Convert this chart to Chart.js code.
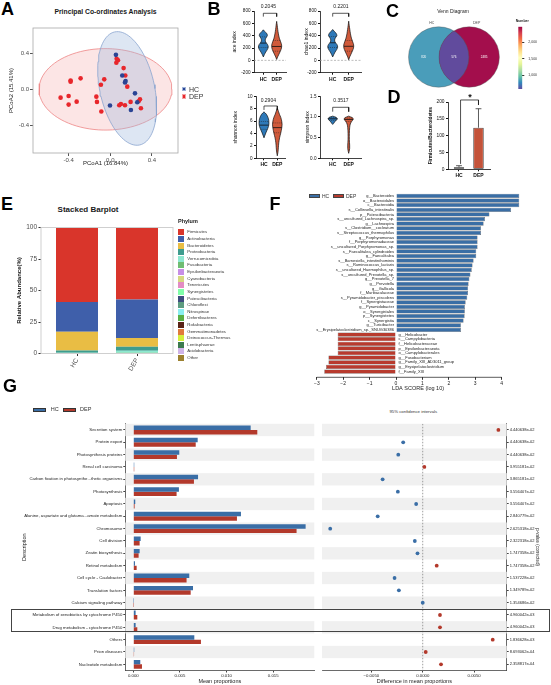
<!DOCTYPE html>
<html><head><meta charset="utf-8">
<script src="https://cdn.jsdelivr.net/npm/chart.js@4.4.1/dist/chart.umd.min.js"></script>
<style>
html,body{margin:0;padding:0;background:#fff;}
body{width:551px;height:685px;position:relative;overflow:hidden;font-family:"Liberation Sans",Arial,Helvetica,sans-serif;}
canvas{position:absolute;}
.t{position:absolute;white-space:nowrap;line-height:1;}
.bx{position:absolute;box-sizing:border-box;}
</style></head><body>
<script>
// ================= DATA =================
const groups = ['HC', 'DEP'];
// A: PCoA
const pcoaHcX = [0.054, 0.115, 0.147, 0.141, 0.237, -0.003, 0.198, 0.259];
const pcoaHcY = [0.387, 0.156, 0.093, 0.078, -0.045, -0.182, -0.231, -0.145];
const pcoaDepX = [-0.477,-0.40,-0.40,-0.323,-0.381,-0.381,-0.285,-0.134,-0.128,-0.086,-0.090,-0.058,0.061,0.074,0.058,0.128,0.144,0.163,0.086,0.102,0.141,0.195,0.272,0.285,0.294];
const pcoaDepY = [-0.093,-0.074,-0.171,-0.138,0.100,0.086,0.123,-0.082,-0.141,-0.249,0.052,0.112,0.342,0.327,0.298,0.238,0.156,0.030,-0.179,-0.164,-0.179,-0.141,-0.134,-0.112,-0.212];
const ellipseHC = {cx:0.162, cy:0.01, ux:-0.12, uy:0.634, vx:0.256, vy:0.065};
const ellipseDEP = {cx:-0.046, cy:0.0, ux:0.638, uy:0, vx:0, vy:0.457};

// B: alpha diversity violins (levels = value, widths = half width in x units)
const aceHcLevels = [495,465,430,400,365,330,295,255,215,175,135,95,55];
const aceHcWidths = [0,0.12,0.27,0.3,0.2,0.14,0.18,0.32,0.37,0.3,0.18,0.08,0];
const aceDepLevels = [632,570,500,430,360,300,250,200,150,100,55,15];
const aceDepWidths = [0,0.04,0.08,0.13,0.2,0.3,0.37,0.36,0.28,0.17,0.07,0];
const aceStats = {median:[280,225], q1:[205,150], q3:[380,320]};
const chao1HcLevels = [500,470,435,400,365,330,295,255,215,175,135,95,55];
const chao1HcWidths = [0,0.1,0.22,0.26,0.17,0.12,0.15,0.27,0.31,0.25,0.15,0.07,0];
const chao1DepLevels = [635,570,500,430,360,300,250,200,150,100,55,10];
const chao1DepWidths = [0,0.03,0.07,0.11,0.17,0.25,0.31,0.3,0.23,0.14,0.06,0];
const chao1Stats = {median:[285,228], q1:[205,150], q3:[385,325]};
const shannonHcLevels = [7.5,7.1,6.6,6.1,5.6,5.1,4.6,4.1,3.6,3.3];
const shannonHcWidths = [0,0.18,0.3,0.36,0.37,0.33,0.24,0.14,0.05,0];
const shannonDepLevels = [8.1,7.6,7.1,6.6,6.0,5.5,5.0,4.5,4.0,3.3,2.5,1.7,1.0,0.4];
const shannonDepWidths = [0,0.08,0.16,0.26,0.33,0.36,0.34,0.3,0.25,0.17,0.11,0.08,0.05,0];
const shannonStats = {median:[5.35,4.95], q1:[4.7,4.1], q3:[5.9,5.7]};
const simpsonHcLevels = [1.02,0.99,0.955,0.92,0.88,0.84,0.82];
const simpsonHcWidths = [0,0.22,0.29,0.22,0.12,0.05,0];
const simpsonDepLevels = [1.02,0.985,0.95,0.9,0.83,0.74,0.6,0.45,0.32,0.24,0.17,0.12];
const simpsonDepWidths = [0,0.22,0.29,0.2,0.1,0.06,0.04,0.04,0.06,0.06,0.03,0];
const simpsonStats = {median:[0.955,0.94], q1:[0.92,0.89], q3:[0.98,0.975]};
const pValuesB = ['0.2045','0.2201','0.2904','0.3517'];

// C: Venn
const vennRegionCounts = [820, 576, 2485]; // HC only, shared, DEP only
const colorbarTicks = [1000, 1500, 2000];

// D: Firmicutes/Bacteroidetes
const fbMean = [6, 123.6];
const fbUpper = [10.7, 180];

// E: phylum stacked bar
const phylumNames = ['Firmicutes','Actinobacteria','Bacteroidetes','Proteobacteria','Verrucomicrobia','Fusobacteria','Epsilonbacteraeota','Cyanobacteria','Tenericutes','Synergistetes','Patescibacteria','Chloroflexi','Nitrospinae','Deferribacteres','Rokubacteria','Gemmatimonadetes','Deinococcus-Thermus','Lentisphaerae','Acidobacteria','Other'];
const phylumHc  = [59.2,23.5,15.0,1.7,0.15,0.1,0.05,0.05,0.05,0.03,0.02,0.02,0.01,0.01,0.01,0.01,0.01,0.01,0.01,0.09];
const phylumDep = [57.1,30.5,7.0,3.3,1.6,0.15,0.1,0.05,0.05,0.03,0.01,0.01,0.01,0.01,0.01,0.01,0.01,0.01,0.01,0.03];
const phylumColors = ['#d9352b','#3f5faa','#e9bd44','#3f9c8e','#8de8d0','#6fbd72','#c78ee6','#d6d880','#e38cc4','#80ffa8','#3e4d7e','#5d9c80','#8aeef0','#5aaf45','#5a2316','#e07b3c','#d4ef3c','#3c7a4e','#cfb3e8','#9c8130'];

// F: LEfSe LDA
const ldaLabels = ['g__Bacteroides','o__Bacteroidales','c__Bacteroidia','s__Collinsella_intestinalis','p__Patescibacteria','s__uncultured_Lachnospira_sp.','g__Lachnospira','s__Clostridium__cocleatum','s__Streptococcus_thermophilus','g__Porphyromonas','f__Porphyromonadaceae','s__uncultured_Porphyromonas_sp.','s__Faecalitalea_cylindroides','g__Faecalitalea','s__Barnesiella_intestinihominis','s__Ruminococcus_lactaris','s__uncultured_Haemophilus_sp.','s__uncultured_Prevotella_sp.','g__Prevotella_7','g__Prevotella','g__Gallicola','f__Muribaculaceae','s__Pyramidobacter_piscolens','f__Synergistaceae','g__Pyramidobacter','o__Synergistales','p__Synergistetes','c__Synergistia','g__Turicibacter','s__Erysipelatoclostridium_sp._SNUG30386','g__Helicobacter','c__Campylobacteria','f__Helicobacteraceae','p__Epsilonbacteraeota','o__Campylobacterales','g__Fusobacterium','g__Family_XIII_AD3011_group','g__Erysipelatoclostridium','f__Family_XIII'];
const ldaValues = [4.67,4.67,4.67,4.36,3.54,3.37,3.32,3.22,3.22,3.09,3.09,3.09,3.04,3.04,2.94,2.9,2.87,2.82,2.78,2.75,2.73,2.73,2.7,2.64,2.61,2.61,2.6,2.56,2.46,2.46,-2.21,-2.21,-2.21,-2.21,-2.21,-2.56,-2.56,-2.65,-2.72];
const ldaTicks = [-3,-2,-1,0,1,2,3,4];

// G: STAMP extended error bar
const gDesc = ['Secretion system','Protein export','Photosynthesis proteins','Renal cell carcinoma','Carbon fixation in photosynthe...thetic organisms','Photosynthesis','Apoptosis','Alanine, aspartate and glutama...amate metabolism','Chromosome','Cell division','Zeatin biosynthesis','Retinol metabolism','Cell cycle - Caulobacter','Translation factors','Calcium signaling pathway','Metabolism of xenobiotics by cytochrome P450','Drug metabolism - cytochrome P450','Others','Prion diseases','Nucleotide metabolism'];
const gHc  = [0.01258,0.0069,0.00493,0.0001,0.00694,0.00489,0.00021,0.01154,0.01847,0.00079,0.00068,0.00018,0.006,0.0064,0.00001,0.00025,0.00025,0.00654,0.0001,0.00075];
const gDep = [0.01329,0.00669,0.00468,0.0001,0.0065,0.00464,0.00014,0.01111,0.0175,0.00068,0.00057,0.00036,0.00571,0.00615,0.00001,0.00043,0.00043,0.00725,0.00008,0.00093];
const gDiff = [0.00736,-0.0019,-0.00238,0.00016,-0.0039,-0.00242,-0.00064,-0.00438,-0.009,-0.00077,-0.00051,0.00136,-0.00274,-0.00232,0.0,0.00168,0.00168,0.00681,0.00029,0.00178];
const gP = ['4.440638e-02','4.440638e-02','4.440638e-02','3.955181e-02','3.865181e-02','3.556407e-02','3.556407e-02','2.840779e-02','2.625318e-02','2.322318e-02','1.747358e-02','1.747358e-02','1.537228e-02','1.349789e-02','1.354686e-02','4.960042e-03','4.960042e-03','1.836628e-03','8.693062e-04','2.358817e-04'];
const gMeanTicks = [0, 0.005, 0.010, 0.015];
const gDiffTicks = [-0.005, 0, 0.005];

// ================= HELPERS =================
const FONT = '"Liberation Sans", Arial, Helvetica, sans-serif';
Chart.defaults.font.family = FONT;
Chart.defaults.color = '#222';
Chart.defaults.animation = false;
Chart.defaults.responsive = false;
Chart.defaults.devicePixelRatio = 1;
Chart.defaults.events = [];
Chart.defaults.plugins.legend.display = false;
Chart.defaults.plugins.tooltip.enabled = false;

function mkCanvas(x, y, w, h) {
  const c = document.createElement('canvas');
  c.width = w; c.height = h;
  c.style.left = x + 'px'; c.style.top = y + 'px';
  c.style.width = w + 'px'; c.style.height = h + 'px';
  document.body.appendChild(c);
  return c;
}
function T(text, x, y, size, opt) {
  opt = opt || {};
  const d = document.createElement('div');
  d.className = 't';
  d.textContent = text;
  const a = opt.align || 'center';
  const tx = a === 'left' ? '0%' : (a === 'right' ? '-100%' : '-50%');
  d.style.left = x + 'px'; d.style.top = y + 'px';
  d.style.fontSize = size + 'px';
  if (opt.bold) d.style.fontWeight = 'bold';
  d.style.color = opt.color || '#1a1a1a';
  d.style.transform = 'translate(' + tx + ',-50%)' + (opt.rot ? ' rotate(' + opt.rot + 'deg)' : '');
  document.body.appendChild(d);
}
function R(x, y, w, h, style) {
  const d = document.createElement('div');
  d.className = 'bx';
  d.style.cssText = 'left:' + x + 'px;top:' + y + 'px;width:' + w + 'px;height:' + h + 'px;' + style;
  document.body.appendChild(d);
}
const fixedTicks = vals => (s => { s.ticks = vals.map(v => ({value: v})); });

const PLUG_FRAME = {
  id: 'frame',
  afterDatasetsDraw(chart, args, o) {
    if (!o || !o.color) return;
    const {ctx, chartArea: a} = chart;
    ctx.save(); ctx.strokeStyle = o.color; ctx.lineWidth = o.width || 1;
    ctx.strokeRect(a.left, a.top, a.right - a.left, a.bottom - a.top);
    ctx.restore();
  }
};
const PLUG_STRIPES = {
  id: 'stripes',
  beforeDatasetsDraw(chart, args, o) {
    if (!o || !o.rows) return;
    const {ctx, chartArea: a} = chart; const y = chart.scales.y;
    ctx.save(); ctx.fillStyle = o.color || '#f0f0f0';
    for (let i = 0; i < o.rows; i += 2) {
      const p1 = y.getPixelForValue(i - 0.5), p2 = y.getPixelForValue(i + 0.5);
      ctx.fillRect(a.left, Math.min(p1, p2), a.right - a.left, Math.abs(p2 - p1));
    }
    ctx.restore();
  }
};
Chart.register(PLUG_FRAME, PLUG_STRIPES);

// ================= A: PCoA =================
function ellipsePts(e) {
  const pts = [];
  for (let k = 0; k <= 90; k++) {
    const t = k / 90 * Math.PI * 2;
    pts.push({x: e.cx + Math.cos(t) * e.ux + Math.sin(t) * e.vx, y: e.cy + Math.cos(t) * e.uy + Math.sin(t) * e.vy});
  }
  return pts;
}
const zip = (xs, ys) => xs.map((x, i) => ({x, y: ys[i]}));
new Chart(mkCanvas(0, 20, 185, 150), {
  type: 'scatter',
  data: {datasets: [
    {data: ellipsePts(ellipseDEP), showLine: true, fill: 'shape', pointRadius: 0, borderColor: '#ee8585', borderWidth: 0.8, backgroundColor: 'rgba(244,160,160,0.28)', order: 4},
    {data: ellipsePts(ellipseHC), showLine: true, fill: 'shape', pointRadius: 0, borderColor: '#8aa5cf', borderWidth: 0.8, backgroundColor: 'rgba(160,185,222,0.36)', order: 3},
    {data: zip(pcoaDepX, pcoaDepY), pointRadius: 2.3, pointBackgroundColor: '#e8262b', pointBorderWidth: 0, order: 2},
    {data: zip(pcoaHcX, pcoaHcY), pointRadius: 2.3, pointBackgroundColor: '#2a4494', pointBorderWidth: 0, order: 1}
  ]},
  options: {
    layout: {padding: {left: 8, top: 8, right: 7, bottom: 3}},
    scales: {
      x: {type: 'linear', min: -0.742, max: 0.65, afterBuildTicks: fixedTicks([-0.4, 0, 0.4]),
        ticks: {callback: v => v.toFixed(1), font: {size: 6}, color: '#4d4d4d', padding: 1, autoSkip: false, maxRotation: 0},
        grid: {drawOnChartArea: false, tickLength: 3, tickColor: '#555'}, border: {display: false},
        title: {display: true, text: 'PCoA1 (16.84%)', font: {size: 6}, color: '#222', padding: 0},
        afterFit: s => { s.height = 14; }},
      y: {type: 'linear', min: -0.714, max: 0.688, afterBuildTicks: fixedTicks([-0.4, 0, 0.4]),
        ticks: {callback: v => v.toFixed(1), font: {size: 6}, color: '#4d4d4d', padding: 1, autoSkip: false},
        grid: {drawOnChartArea: false, tickLength: 3, tickColor: '#555'}, border: {display: false},
        title: {display: true, text: 'PCoA2 (15.41%)', font: {size: 6}, color: '#222', padding: 0},
        afterFit: s => { s.width = 25; }}
    },
    plugins: {frame: {color: '#a8a8a8', width: 0.8}}
  }
});

// ================= B: violins =================
function violinOutline(xc, levels, widths) {
  const left = levels.map((y, i) => ({x: xc - widths[i], y}));
  const right = levels.map((y, i) => ({x: xc + widths[i], y})).reverse();
  return left.concat(right);
}
function widthAt(levels, widths, v) {
  for (let i = 0; i < levels.length - 1; i++) {
    const a = levels[i], b = levels[i + 1];
    if (v <= a && v >= b) { const t = (a - v) / (a - b); return widths[i] + (widths[i + 1] - widths[i]) * t; }
  }
  return 0;
}
const groupColors = ['#2e79b8', '#d05a3b'];
function bChart(cfg) {
  const ds = [];
  cfg.violins.forEach((v, k) => {
    const xc = k + 1;
    ds.push({data: violinOutline(xc, v.levels, v.widths), showLine: true, fill: 'shape', tension: 0.3, pointRadius: 0, borderColor: '#111', borderWidth: 0.7, backgroundColor: groupColors[k], order: 5});
    [cfg.stats.q1[k], cfg.stats.q3[k]].forEach(q => {
      const w = widthAt(v.levels, v.widths, q);
      ds.push({data: [{x: xc - w, y: q}, {x: xc + w, y: q}], showLine: true, pointRadius: 0, borderColor: '#222', borderWidth: 0.5, borderDash: [1, 1], order: 2});
    });
    const m = cfg.stats.median[k], mw = widthAt(v.levels, v.widths, m);
    ds.push({data: [{x: xc - mw, y: m}, {x: xc + mw, y: m}], showLine: true, pointRadius: 0, borderColor: '#111', borderWidth: 0.8, order: 1});
  });
  if (cfg.zero) ds.push({data: [{x: cfg.xMin, y: 0}, {x: cfg.xMax, y: 0}], showLine: true, pointRadius: 0, borderColor: '#a0a0a0', borderWidth: 0.7, borderDash: [2, 1.5], order: 6});
  const b = cfg.bracket;
  ds.push({data: [{x: 1, y: b[0]}, {x: 1, y: b[1]}, {x: 2, y: b[1]}, {x: 2, y: b[0]}], showLine: true, pointRadius: 0, borderColor: '#111', borderWidth: 0.7, clip: false, order: 1});
  new Chart(mkCanvas(cfg.cx, cfg.cy, cfg.cw, cfg.ch), {
    type: 'scatter', data: {datasets: ds},
    options: {
      layout: {padding: cfg.pad},
      scales: {
        x: {type: 'linear', offset: false, min: cfg.xMin, max: cfg.xMax, afterBuildTicks: fixedTicks([1, 2]),
          ticks: {callback: v => groups[v - 1], font: {size: 5, weight: 'bold'}, color: '#111', padding: 1.5, autoSkip: false, maxRotation: 0},
          grid: {drawOnChartArea: false, tickLength: 2, tickColor: '#111'}, border: {color: '#111', width: 0.8},
          afterFit: s => { s.height = cfg.xh; }},
        y: {type: 'linear', min: cfg.yMin, max: cfg.yMax, afterBuildTicks: fixedTicks(cfg.yTicks),
          ticks: {callback: cfg.fmt, font: {size: 4.6}, color: '#111', padding: 1.5, autoSkip: false},
          grid: {drawOnChartArea: false, tickLength: 2, tickColor: '#111'}, border: {color: '#111', width: 0.8},
          title: {display: true, text: cfg.title, font: {size: 5}, color: '#111', padding: 0},
          afterFit: s => { s.width = cfg.yw; }}
      }
    }
  });
}
const intFmt = v => String(v);
bChart({cx: 228, cy: 0, cw: 72, ch: 85, pad: {left: 4, top: 11, right: 14, bottom: 0}, yw: 22, xh: 12.3,
  xMin: 0.3, xMax: 2.7, yMin: -200, yMax: 800, yTicks: [-200, 0, 200, 400, 600, 800], fmt: intFmt, title: 'ace index', zero: true,
  violins: [{levels: aceHcLevels, widths: aceHcWidths}, {levels: aceDepLevels, widths: aceDepWidths}], stats: aceStats, bracket: [709, 763]});
bChart({cx: 296, cy: 0, cw: 74, ch: 85, pad: {left: 8, top: 11, right: 8.6, bottom: 0}, yw: 16, xh: 12.3,
  xMin: 0.206, xMax: 2.794, yMin: -200, yMax: 800, yTicks: [-200, 0, 200, 400, 600, 800], fmt: intFmt, title: 'chao1 index', zero: true,
  violins: [{levels: chao1HcLevels, widths: chao1HcWidths}, {levels: chao1DepLevels, widths: chao1DepWidths}], stats: chao1Stats, bracket: [709, 763]});
bChart({cx: 228, cy: 85, cw: 72, ch: 85, pad: {left: 4.7, top: 11.3, right: 14.7, bottom: 0}, yw: 23.3, xh: 11.7,
  xMin: 0.4, xMax: 2.6, yMin: 0, yMax: 10, yTicks: [0, 2, 4, 6, 8, 10], fmt: intFmt, title: 'shannon index', zero: false,
  violins: [{levels: shannonHcLevels, widths: shannonHcWidths}, {levels: shannonDepLevels, widths: shannonDepWidths}], stats: shannonStats, bracket: [7.8, 8.44]});
bChart({cx: 296, cy: 85, cw: 74, ch: 85, pad: {left: 9, top: 11.3, right: 8.6, bottom: 0}, yw: 15, xh: 11.7,
  xMin: 0.206, xMax: 2.794, yMin: 0, yMax: 1.5, yTicks: [0, 0.5, 1.0, 1.5], fmt: v => v.toFixed(1), title: 'simpson index', zero: false,
  violins: [{levels: simpsonHcLevels, widths: simpsonHcWidths}, {levels: simpsonDepLevels, widths: simpsonDepWidths}], stats: simpsonStats, bracket: [1.128, 1.234]});

// ================= C: Venn =================
const spectralStops = ['#5e4fa2','#3288bd','#66c2a5','#abdda4','#e6f598','#ffffbf','#fee08b','#fdae61','#f46d43','#d53e4f','#9e0142'];
const cbMin = Math.min(...vennRegionCounts), cbMax = Math.max(...vennRegionCounts);
function hexRgb(h) { return [1, 3, 5].map(i => parseInt(h.substr(i, 2), 16)); }
function spectral(v) {
  const t = Math.max(0, Math.min(1, (v - cbMin) / (cbMax - cbMin)));
  const n = spectralStops.length - 1, i = Math.min(n - 1, Math.floor(t * n)), f = t * n - i;
  const a = hexRgb(spectralStops[i]), b = hexRgb(spectralStops[i + 1]);
  return 'rgb(' + a.map((c, k) => Math.round(c + (b[k] - c) * f)).join(',') + ')';
}
const vennCircles = [{x: 0, y: 0, r: 0.99}, {x: 1, y: 0, r: 0.99}];
const PLUG_VENN = {
  id: 'venn',
  afterDatasetsDraw(chart) {
    const {ctx, scales: {x, y}} = chart;
    const px = c => ({cx: x.getPixelForValue(c.x), cy: y.getPixelForValue(c.y), r: Math.abs(x.getPixelForValue(c.x + c.r) - x.getPixelForValue(c.x))});
    const A = px(vennCircles[0]), B = px(vennCircles[1]);
    const path = c => { ctx.beginPath(); ctx.arc(c.cx, c.cy, c.r, 0, Math.PI * 2); };
    ctx.save();
    ctx.globalAlpha = 0.95;
    path(A); ctx.fillStyle = spectral(vennRegionCounts[0]); ctx.fill();
    path(B); ctx.fillStyle = spectral(vennRegionCounts[2]); ctx.fill();
    ctx.save(); path(A); ctx.clip(); path(B); ctx.fillStyle = spectral(vennRegionCounts[1]); ctx.fill(); ctx.restore();
    ctx.globalAlpha = 1;
    ctx.lineWidth = 0.4; ctx.strokeStyle = '#555'; path(A); ctx.stroke(); path(B); ctx.stroke();
    const c0 = vennCircles[0], c1 = vennCircles[1];
    const tx = [((c0.x - c0.r) + (c1.x - c1.r)) / 2, (c0.x + c1.x) / 2, ((c0.x + c0.r) + (c1.x + c1.r)) / 2];
    ctx.fillStyle = '#ffffff'; ctx.font = '3px ' + FONT; ctx.textAlign = 'center'; ctx.textBaseline = 'middle';
    tx.forEach((v, i) => ctx.fillText(String(vennRegionCounts[i]), x.getPixelForValue(v), A.cy));
    ctx.restore();
  }
};
new Chart(mkCanvas(400, 20, 110, 75), {
  type: 'scatter', data: {datasets: []},
  options: {layout: {padding: 0}, scales: {
    x: {type: 'linear', display: false, offset: false, min: -1.269, max: 2.338},
    y: {type: 'linear', display: false, offset: false, min: -1.246, max: 1.213}}},
  plugins: [PLUG_VENN]
});
// colour bar
new Chart(mkCanvas(505, 20, 46, 75), {
  type: 'bar',
  data: {labels: [''], datasets: [{data: [[cbMin, cbMax]], borderWidth: 0, barPercentage: 1, categoryPercentage: 1,
    backgroundColor: c => {
      const a = c.chart.chartArea; if (!a) return '#888';
      const g = c.chart.ctx.createLinearGradient(0, a.bottom, 0, a.top);
      spectralStops.forEach((s, i) => g.addColorStop(i / (spectralStops.length - 1), s));
      return g;
    }}]},
  options: {layout: {padding: {left: 13.3, top: 6.7, right: 8.7, bottom: 5}}, scales: {
    x: {display: false},
    y: {position: 'right', min: cbMin, max: cbMax, afterBuildTicks: fixedTicks(colorbarTicks),
      ticks: {font: {size: 3.5}, color: '#333', padding: 4, autoSkip: false},
      grid: {drawOnChartArea: false, tickLength: 2, tickColor: '#333'}, border: {display: false},
      afterFit: s => { s.width = 20; }}}}
});

// ================= D: F/B ratio =================
const dDatasets = [{type: 'bar', data: fbMean.map((v, i) => ({x: i + 1, y: v})), backgroundColor: ['#2e7bbd', '#c4533a'], borderColor: '#111', borderWidth: 0.8, borderSkipped: false, barPercentage: 0.53, categoryPercentage: 1, order: 3}];
fbMean.forEach((m, i) => {
  dDatasets.push({type: 'line', data: [{x: i + 1, y: m}, {x: i + 1, y: fbUpper[i]}], pointRadius: 0, borderColor: '#333', borderWidth: 0.8, order: 2});
  dDatasets.push({type: 'line', data: [{x: i + 0.85, y: fbUpper[i]}, {x: i + 1.15, y: fbUpper[i]}], pointRadius: 0, borderColor: '#333', borderWidth: 0.8, order: 2});
});
dDatasets.push({type: 'line', data: [{x: 1.08, y: 16}, {x: 1.08, y: 206}, {x: 2, y: 206}, {x: 2, y: 191}], pointRadius: 0, borderColor: '#222', borderWidth: 0.8, clip: false, order: 1});
new Chart(mkCanvas(420, 90, 80, 95), {
  type: 'bar', data: {datasets: dDatasets},
  options: {layout: {padding: {left: 8, top: 12, right: 10, bottom: 0}}, scales: {
    x: {type: 'linear', offset: false, min: 0.436, max: 2.59, afterBuildTicks: fixedTicks([1, 2]),
      ticks: {callback: v => groups[v - 1], font: {size: 5, weight: 'bold'}, color: '#111', padding: 1.5, autoSkip: false, maxRotation: 0},
      grid: {drawOnChartArea: false, offset: false, tickLength: 2, tickColor: '#111'}, border: {color: '#111', width: 0.8},
      afterFit: s => { s.height = 15.7; }},
    y: {type: 'linear', min: 0, max: 200, afterBuildTicks: fixedTicks([0, 50, 100, 150, 200]),
      ticks: {font: {size: 4.8}, color: '#111', padding: 1.5, autoSkip: false},
      grid: {drawOnChartArea: false, tickLength: 2, tickColor: '#111'}, border: {color: '#111', width: 0.8},
      title: {display: true, text: 'Firmicutes/Bacteroidetes', font: {size: 4.8, weight: 'bold'}, color: '#111', padding: 0},
      afterFit: s => { s.width = 20; }}}}
});

// ================= E: stacked barplot =================
new Chart(mkCanvas(0, 215, 180, 165), {
  type: 'bar',
  data: {datasets: phylumNames.map((n, i) => ({label: n, data: [{x: 1, y: phylumHc[i]}, {x: 2, y: phylumDep[i]}], backgroundColor: phylumColors[i], borderWidth: 0, barPercentage: 0.7, categoryPercentage: 1})).reverse()},
  options: {layout: {padding: {left: 15.7, top: 12.5, right: 7, bottom: 0}}, scales: {
    x: {type: 'linear', offset: false, stacked: true, min: 0.4, max: 2.6, afterBuildTicks: fixedTicks([1, 2]),
      ticks: {callback: v => groups[v - 1], font: {size: 6.5}, color: '#4d4d4d', padding: 1, autoSkip: false, minRotation: 60, maxRotation: 60},
      grid: {drawOnChartArea: false, offset: false, tickLength: 2.5, tickColor: '#333'}, border: {display: false},
      afterFit: s => { s.height = 26.5; }},
    y: {type: 'linear', stacked: true, min: 0, max: 100, afterBuildTicks: fixedTicks([0, 25, 50, 75, 100]),
      ticks: {font: {size: 6.5}, color: '#4d4d4d', padding: 1.5, autoSkip: false},
      grid: {drawOnChartArea: false, tickLength: 2.5, tickColor: '#333'}, border: {display: false},
      title: {display: true, text: 'Relative Abundance(%)', font: {size: 6, weight: 'bold'}, color: '#111', padding: 0},
      afterFit: s => { s.width = 25.3; }}},
    plugins: {frame: {color: '#cfcfcf', width: 1}}}
});

// ================= F: LDA =================
const PLUG_LDA = {
  id: 'lda',
  afterDatasetsDraw(chart) {
    const {ctx, chartArea: a, scales: {x, y}} = chart;
    const x0 = x.getPixelForValue(0);
    ctx.save();
    ctx.font = '4px ' + FONT; ctx.fillStyle = '#222'; ctx.textBaseline = 'middle';
    ldaLabels.forEach((t, i) => {
      const py = y.getPixelForValue(i);
      if (ldaValues[i] >= 0) { ctx.textAlign = 'right'; ctx.fillText(t, x0 - 2, py); }
      else { ctx.textAlign = 'left'; ctx.fillText(t, x0 + 2.5, py); }
    });
    ctx.strokeStyle = '#333'; ctx.lineWidth = 0.8;
    ctx.beginPath(); ctx.moveTo(x.getPixelForValue(ldaTicks[0]), a.bottom); ctx.lineTo(x.getPixelForValue(ldaTicks[ldaTicks.length - 1]), a.bottom); ctx.stroke();
    ctx.restore();
  }
};
new Chart(mkCanvas(265, 190, 286, 205), {
  type: 'bar',
  data: {datasets: [{data: ldaValues.map((v, i) => ({x: v, y: i})), backgroundColor: ldaValues.map(v => v >= 0 ? '#3a6ea5' : '#b83b2e'), borderColor: '#5c5c5c', borderWidth: 0.5, barPercentage: 0.92, categoryPercentage: 1}]},
  options: {indexAxis: 'y', layout: {padding: {left: 50.5, right: 30.4, top: 3.2, bottom: 3.5}}, scales: {
    x: {type: 'linear', min: -3.05, max: 4.72, afterBuildTicks: fixedTicks(ldaTicks),
      ticks: {callback: v => (v < 0 ? '\u2212' + (-v) : String(v)), font: {size: 5}, color: '#222', padding: 1, autoSkip: false, maxRotation: 0},
      grid: {drawOnChartArea: false, tickLength: 2.5, tickColor: '#333'}, border: {display: false},
      title: {display: true, text: 'LDA SCORE (log 10)', font: {size: 5.5}, color: '#222', padding: 0},
      afterFit: s => { s.height = 14.2; }},
    y: {type: 'linear', offset: false, reverse: true, min: -0.6, max: 39.24, display: false, grid: {offset: false}}}},
  plugins: [PLUG_LDA]
});

// ================= G: STAMP =================
new Chart(mkCanvas(0, 415, 318, 270), {
  type: 'bar',
  data: {labels: gDesc, datasets: [
    {label: 'HC', data: gHc, backgroundColor: '#3a6ea6', borderWidth: 0, categoryPercentage: 0.72, barPercentage: 1},
    {label: 'DEP', data: gDep, backgroundColor: '#b3392b', borderWidth: 0, categoryPercentage: 0.72, barPercentage: 1}]},
  options: {indexAxis: 'y', layout: {padding: {left: 20.7, top: 8.8, right: 3.7, bottom: 0}}, scales: {
    x: {type: 'linear', min: -0.000857, max: 0.0194, afterBuildTicks: fixedTicks(gMeanTicks),
      ticks: {callback: v => v.toFixed(3), font: {size: 4.3}, color: '#222', padding: 1, autoSkip: false, maxRotation: 0},
      grid: {drawOnChartArea: false, tickLength: 2, tickColor: '#444'}, border: {color: '#444', width: 0.8},
      title: {display: true, text: 'Mean proportions', font: {size: 5.5}, color: '#222', padding: 0},
      afterFit: s => { s.height = 14.5; }},
    y: {type: 'category', ticks: {font: {size: 4.3}, color: '#222', padding: 1, autoSkip: false},
      grid: {drawOnChartArea: false, tickLength: 2, tickColor: '#444', offset: false}, border: {color: '#444', width: 0.8},
      title: {display: true, text: 'Description', font: {size: 5.5}, color: '#222', padding: 0},
      afterFit: s => { s.width = 104.6; }}},
    plugins: {stripes: {rows: gDesc.length, color: '#f0f0f0'}}}
});
new Chart(mkCanvas(318, 415, 233, 270), {
  type: 'scatter',
  data: {datasets: [
    {data: gDiff.map((d, i) => ({x: d, y: i})), pointRadius: 1.9, pointBackgroundColor: gDiff.map(d => d > 0 ? '#b3392b' : '#3a6ea6'), pointBorderWidth: 0, order: 1},
    {data: [{x: 0, y: -0.5}, {x: 0, y: gDiff.length - 0.5}], showLine: true, pointRadius: 0, borderColor: '#777', borderWidth: 0.7, borderDash: [1.5, 1.5], order: 2}]},
  options: {layout: {padding: {left: 3, top: 8.8, right: 11.3, bottom: 0}}, scales: {
    x: {type: 'linear', min: -0.0098, max: 0.00817, afterBuildTicks: fixedTicks(gDiffTicks),
      ticks: {callback: v => (v < 0 ? '\u2212' : '') + Math.abs(v).toFixed(4), font: {size: 4.3}, color: '#222', padding: 1, autoSkip: false, maxRotation: 0},
      grid: {drawOnChartArea: false, tickLength: 2, tickColor: '#444'}, border: {color: '#444', width: 0.8},
      title: {display: true, text: 'Difference in mean proportions', font: {size: 5.5}, color: '#222', padding: 0},
      afterFit: s => { s.height = 14.5; }},
    y: {type: 'linear', position: 'right', reverse: true, min: -0.5, max: gDiff.length - 0.5, afterBuildTicks: fixedTicks(gP.map((p, i) => i)),
      ticks: {callback: v => gP[v], font: {size: 4}, color: '#222', padding: 1, autoSkip: false},
      grid: {drawOnChartArea: false, tickLength: 2, tickColor: '#444'}, border: {color: '#444', width: 0.8},
      title: {display: true, text: 'p-value (corrected)', font: {size: 4.5}, color: '#222', padding: 0},
      afterFit: s => { s.width = 33; }}},
    plugins: {stripes: {rows: gDiff.length, color: '#f0f0f0'}}}
});

// ================= HTML text / legends =================
[['A', 7.5, 9], ['B', 214, 9], ['C', 392.5, 11], ['D', 394, 97], ['E', 7, 203.5], ['F', 275, 204], ['G', 10, 386]].forEach(l => T(l[0], l[1], l[2], 18, {bold: true, color: '#000'}));
T('Principal Co-ordinates Analysis', 105.5, 12.3, 6.8, {bold: true});
R(181.5, 86.5, 4.5, 4.5, 'background:#2a4494;border:0.5px solid #9fb3d8;');
R(181.5, 94, 4.5, 4.5, 'background:#e8262b;border:0.5px solid #f3a3a3;');
T('HC', 189, 88.8, 7, {align: 'left', color: '#333'});
T('DEP', 189, 96.3, 7, {align: 'left', color: '#333'});
T(pValuesB[0], 268.3, 6, 5); T(pValuesB[1], 341, 5.7, 5); T(pValuesB[2], 268.3, 100, 5); T(pValuesB[3], 341, 100, 5);
T('Venn Diagram', 453, 11, 5);
T(groups[0], 431.7, 24.3, 3.5, {color: '#444'}); T(groups[1], 476.7, 24.3, 3.5, {color: '#444'});
T('Number', 522.3, 22, 3.5, {bold: true});
T('*', 470, 97, 9, {bold: true, color: '#111'});
T('Stacked Barplot', 88, 210, 8, {bold: true});
T('Phylum', 178, 221.7, 5.5, {bold: true, align: 'left'});
phylumNames.forEach((n, i) => {
  const yc = 232.3 + i * 6.62;
  R(177.7, yc - 3, 6.6, 6, 'background:' + phylumColors[i] + ';');
  T(n, 187.3, yc, 4.3, {align: 'left', color: '#333'});
});
R(309, 194, 11, 3.6, 'background:#3a6ea5;border:0.4px solid #444;');
T('HC', 322, 195.8, 5, {align: 'left', color: '#333'});
R(333, 194, 11, 3.6, 'background:#b83b2e;border:0.4px solid #444;');
T('DEP', 346, 195.8, 5, {align: 'left', color: '#333'});
R(33.3, 407.7, 12.7, 4, 'background:#3a6ea6;border:0.4px solid #333;');
T('HC', 50.7, 409.7, 5.5, {align: 'left', color: '#333'});
R(63.3, 407.7, 12.7, 4, 'background:#b3392b;border:0.4px solid #333;');
T('DEP', 80, 409.7, 5.5, {align: 'left', color: '#333'});
T('95% confidence intervals', 413.3, 411.7, 4.3, {color: '#333'});
R(11.3, 609.3, 538.7, 23, 'border:1px solid #444;');
</script>
</body></html>
